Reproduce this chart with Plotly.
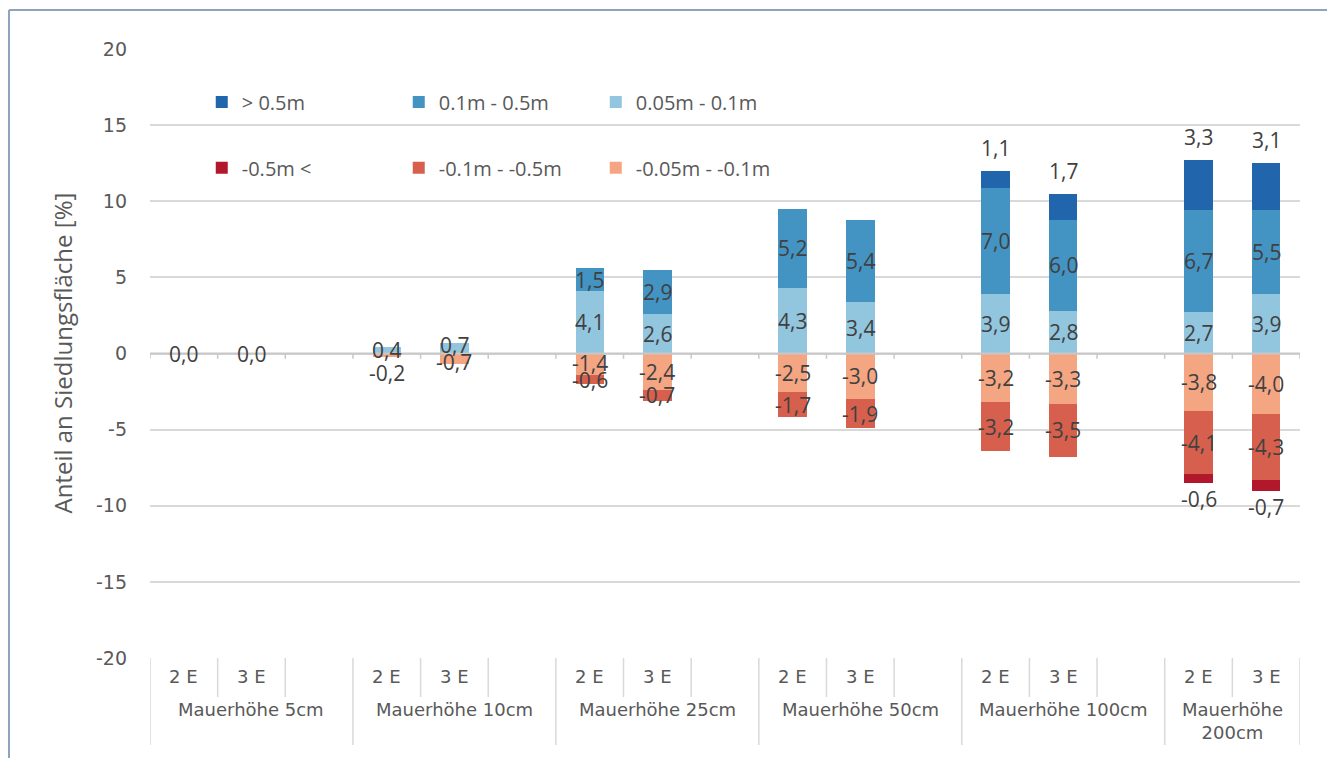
import plotly.graph_objects as go

# ---------------- data ----------------
groups = ["Mauerhöhe 5cm", "Mauerhöhe 10cm", "Mauerhöhe 25cm", "Mauerhöhe 50cm",
          "Mauerhöhe 100cm", "Mauerhöhe<br>200cm"]
slots_per_group = [3, 3, 3, 3, 3, 2]
bar_labels = ["2 E", "3 E"]

pos_gt_05 = [0, 0, 0, 0, 0, 0, 0, 0, 1.1, 1.7, 3.3, 3.1]
pos_01_05 = [0, 0, 0, 0, 1.5, 2.9, 5.2, 5.4, 7.0, 6.0, 6.7, 5.5]
pos_005_01 = [0, 0, 0.4, 0.7, 4.1, 2.6, 4.3, 3.4, 3.9, 2.8, 2.7, 3.9]
neg_005_01 = [0, 0, -0.2, -0.7, -1.4, -2.4, -2.5, -3.0, -3.2, -3.3, -3.8, -4.0]
neg_01_05 = [0, 0, 0, 0, -0.6, -0.7, -1.7, -1.9, -3.2, -3.5, -4.1, -4.3]
neg_lt_05 = [0, 0, 0, 0, 0, 0, 0, 0, 0, 0, -0.6, -0.7]

names = ["> 0.5m", "0.1m - 0.5m", "0.05m - 0.1m", "-0.5m <", "-0.1m - -0.5m", "-0.05m - -0.1m"]
colors = ["#2166ac", "#4393c3", "#92c5de", "#b2182b", "#d6604d", "#f4a582"]

y_ticks = [-20, -15, -10, -5, 0, 5, 10, 15, 20]
y_title = "Anteil an Siedlungsfläche [%]"

# ---------------- geometry from structure ----------------
starts = []
s = 0
for n in slots_per_group:
    starts.append(s)
    s += n
total_slots = s
xs = []
for st in starts:
    for j in range(2):
        xs.append(st + j + 0.5)

LBL = "Open Sans"
TCK = "DejaVu Sans"
TXT = "#404040"
AX = "#595959"
GRID = "#d9d9d9"
LSIZE = 21

Y_MIN, Y_MAX = -20, 20
PLOT_H = 609
PX_PER_UNIT = PLOT_H / (Y_MAX - Y_MIN)
MIN_GAP = 17

fig = go.Figure()

# stacking order: inner segments first
stack = [
    (2, pos_005_01, "legend", 3), (1, pos_01_05, "legend", 2), (0, pos_gt_05, "legend", 1),
    (5, neg_005_01, "legend2", 3), (4, neg_01_05, "legend2", 2), (3, neg_lt_05, "legend2", 1),
]
for idx, vals, lg, rank in stack:
    fig.add_trace(go.Bar(
        x=xs, y=vals, name=names[idx], marker=dict(color=colors[idx], line=dict(width=0)),
        width=0.42, legend=lg, legendrank=rank, hoverinfo="skip",
    ))

fmt = lambda v: f"{v:.1f}".replace(".", ",")

annotations = []
# data labels (centre of segment; outermost segments outside; simple de-overlap)
for i, x in enumerate(xs):
    pos_series = [pos_005_01[i], pos_01_05[i], pos_gt_05[i]]
    neg_series = [neg_005_01[i], neg_01_05[i], neg_lt_05[i]]
    if all(v == 0 for v in pos_series + neg_series):
        annotations.append(dict(x=x, y=0, text="0,0", showarrow=False,
                                font=dict(family=LBL, size=LSIZE, color=TXT)))
        continue
    labs = []
    for series, sign in ((pos_series, 1), (neg_series, -1)):
        cum = 0
        for k, v in enumerate(series):
            if v == 0:
                continue
            lo, hi = cum, cum + v
            cum = hi
            outer = (k == 2) or abs(v) < 0.3
            if outer:
                yy, sh = hi, (23 if sign > 0 else -16)
            else:
                yy, sh = (lo + hi) / 2, 0
            labs.append(dict(v=v, y=yy, sh=sh, p=yy * PX_PER_UNIT + sh))
    labs.sort(key=lambda d: d["p"])
    for a, b in zip(labs, labs[1:]):
        gap = b["p"] - a["p"]
        if gap < MIN_GAP:
            d = (MIN_GAP - gap) / 2
            a["sh"] -= d
            a["p"] -= d
            b["sh"] += d
            b["p"] += d
    for d in labs:
        annotations.append(dict(x=x, y=d["y"], yshift=d["sh"], text=fmt(d["v"]),
                                showarrow=False,
                                font=dict(family=LBL, size=LSIZE, color=TXT)))

# y axis title
annotations.append(dict(xref="paper", yref="paper", x=-0.0765, y=0.5, text=y_title,
                        textangle=-90, showarrow=False, xanchor="center", yanchor="middle",
                        font=dict(family=LBL, size=24, color=AX)))

# category table labels
for g, st in enumerate(starts):
    for j, lab in enumerate(bar_labels):
        annotations.append(dict(x=st + j + 0.5, xref="x", yref="paper", y=-0.0296,
                                text=lab, showarrow=False, yanchor="middle",
                                font=dict(family=TCK, size=18, color=AX)))
    annotations.append(dict(x=st + slots_per_group[g] / 2, xref="x", yref="paper",
                            y=-0.085 if "<br>" not in groups[g] else -0.104,
                            text=groups[g], showarrow=False, yanchor="middle",
                            font=dict(family=TCK, size=18, color=AX)))

shapes = []
# zero axis line and tick marks
shapes.append(dict(type="line", xref="x", yref="y", x0=0, x1=total_slots, y0=0, y1=0,
                   line=dict(color="#c8c8c8", width=2)))
for b in range(total_slots + 1):
    shapes.append(dict(type="line", xref="x", yref="y", x0=b, x1=b, y0=0, y1=-0.35,
                       line=dict(color="#c8c8c8", width=1.5)))
# category table separators
for b in range(total_slots + 1):
    is_group = b in starts or b == total_slots
    shapes.append(dict(type="line", xref="x", yref="paper", x0=b, x1=b, y0=0,
                       y1=-0.143 if is_group else -0.064,
                       line=dict(color=GRID, width=1.5)))
# outer border of chart
bc = "#8fa3bd"
bl, br, bt = -0.1226, 1.0261, 1.0640
shapes.append(dict(type="line", xref="paper", yref="paper", x0=bl, x1=br,
                   y0=bt, y1=bt, line=dict(color=bc, width=2)))
shapes.append(dict(type="line", xref="paper", yref="paper", x0=bl, x1=bl,
                   y0=bt, y1=-0.2, line=dict(color=bc, width=2)))
shapes.append(dict(type="line", xref="paper", yref="paper", x0=br, x1=br,
                   y0=bt, y1=-0.2, line=dict(color=bc, width=2)))

leg_common = dict(orientation="h", entrywidth=152, entrywidthmode="pixels",
                  font=dict(family=LBL, size=20, color=AX), bgcolor="rgba(0,0,0,0)",
                  xanchor="left", yanchor="middle", traceorder="normal", itemclick=False)

fig.update_layout(
    width=1335, height=758,
    margin=dict(l=142, r=43, t=41, b=108),
    paper_bgcolor="white", plot_bgcolor="white",
    barmode="relative", bargap=0,
    showlegend=True,
    legend=dict(x=0.045, y=0.913, **leg_common),
    legend2=dict(x=0.045, y=0.805, **leg_common),
    xaxis=dict(range=[0, total_slots], showticklabels=False, showgrid=False,
               zeroline=False, showline=False, fixedrange=True),
    yaxis=dict(range=[Y_MIN, Y_MAX], tickvals=y_ticks, ticktext=[str(v) for v in y_ticks],
               showgrid=True, gridcolor=GRID, gridwidth=1.5, zeroline=False,
               showline=False, ticks="", ticklabelstandoff=22,
               tickfont=dict(family=TCK, size=19, color=AX), fixedrange=True),
    annotations=annotations,
    shapes=shapes,
)

fig.write_html("out.html")
